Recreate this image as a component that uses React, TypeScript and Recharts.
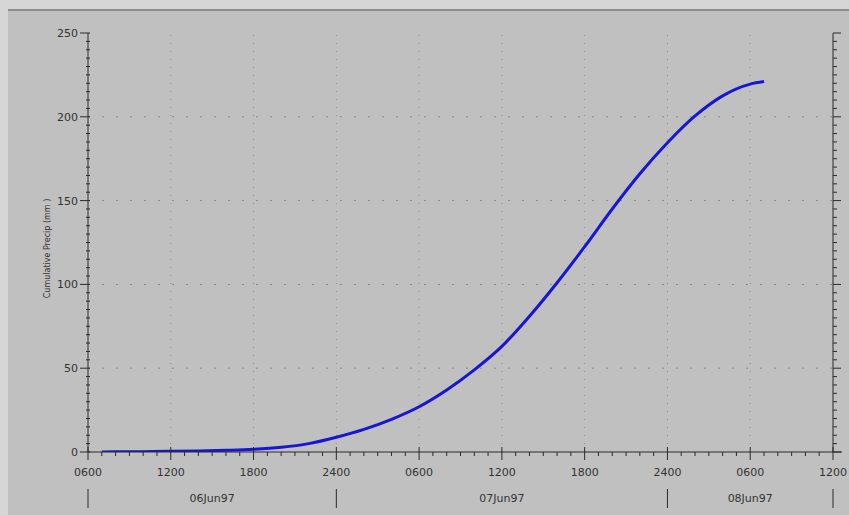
import React from 'react'
import { LineChart, Line, XAxis, YAxis, ReferenceLine } from 'recharts'

// hours after 0600 06Jun97, cumulative precip (mm)
const hours = [1, 2, 4, 6, 8, 10, 12, 14, 16, 18, 20, 22, 24, 26, 28, 30, 32, 34, 36, 38, 40, 42, 44, 46, 48, 49]
const precip = [0, 0.1, 0.2, 0.4, 0.6, 1.0, 1.6, 2.8, 5.0, 8.8, 13.5, 19.5, 27, 37, 49, 63, 81, 101, 122.5, 145, 166, 184.5, 200.5, 212.5, 219.5, 221]

const xTickLabels = ['0600', '1200', '1800', '2400', '0600', '1200', '1800', '2400', '0600', '1200']
const dayBounds = [0, 18, 42, 54]
const dayLabels = ['06Jun97', '07Jun97', '08Jun97']
const yLabels = [0, 50, 100, 150, 200, 250]

const data = hours.map((h, i) => ({ h, v: precip[i] }))

const hourTicks = Array.from({ length: 55 }, (_, i) => i)
const yTicks = Array.from({ length: 51 }, (_, i) => i * 5)
const dayCenters = dayLabels.map((_, i) => (dayBounds[i] + dayBounds[i + 1]) / 2)

const AXIS = '#2a2a2a'
const TEXT = '#333'
const GRID = '#8a8a8a'
const FONT = 'DejaVu Sans, sans-serif'

const BottomTick = (p: any) => {
  const { x, y, payload } = p
  const v = payload.value
  const major = v % 6 === 0
  const li = dayCenters.indexOf(v)
  return (
    <g>
      <line x1={x} x2={x} y1={major ? y - 5 : y} y2={y + (major ? 8 : 4)} stroke={AXIS} />
      {v === 54 && <line x1={x} x2={x + 9} y1={y} y2={y} stroke={AXIS} />}
      {major && (
        <text x={x} y={y + 24} textAnchor="middle" fontSize={11} fill={TEXT} fontFamily={FONT}>
          {xTickLabels[v / 6]}
        </text>
      )}
      {dayBounds.includes(v) && <line x1={x} x2={x} y1={y + 37} y2={y + 56} stroke={AXIS} />}
      {li >= 0 && (
        <text x={x} y={y + 50} textAnchor="middle" fontSize={11} fill={TEXT} fontFamily={FONT}>
          {dayLabels[li]}
        </text>
      )}
    </g>
  )
}

const TopTick = (p: any) => {
  const { x, y, payload } = p
  const v = payload.value
  const major = v % 6 === 0
  return (
    <g>
      <line x1={x} x2={x} y1={y} y2={y + (major ? 8 : 4)} stroke={AXIS} />
      {v === 54 && <line x1={x} x2={x + 9} y1={y} y2={y} stroke={AXIS} />}
    </g>
  )
}

const LeftTick = (p: any) => {
  const { x, y, payload } = p
  const v = payload.value
  const major = yLabels.includes(v)
  return (
    <g>
      <line x1={major ? x - 8 : x - 2} x2={x + 2} y1={y} y2={y} stroke={AXIS} />
      {major && (
        <text x={x - 10} y={y + 4} textAnchor="end" fontSize={11} fill={TEXT} fontFamily={FONT}>
          {v}
        </text>
      )}
    </g>
  )
}

const RightTick = (p: any) => {
  const { x, y, payload } = p
  const major = yLabels.includes(payload.value)
  return <line x1={x} x2={x + (major ? 8 : 4)} y1={y} y2={y} stroke={AXIS} />
}

const YTitle = (p: any) => {
  const { viewBox } = p
  const cx = viewBox.x + 47
  const cy = viewBox.y + viewBox.height / 2 + 6
  return (
    <text
      x={cx}
      y={cy}
      transform={`rotate(-90 ${cx} ${cy})`}
      textAnchor="middle"
      dominantBaseline="central"
      fontSize={8}
      fill={TEXT}
      fontFamily={FONT}
    >
      {'Cumulative Precip (mm     )'}
    </text>
  )
}

export default function App() {
  return (
    <div style={{ position: 'absolute', left: 0, top: 0, width: 849, height: 515, background: '#d6d6d6', overflow: 'hidden' }}>
      <div style={{ position: 'absolute', left: 8, top: 9, right: 0, bottom: 0, background: '#c0c0c0', borderTop: '2px solid #8e8e8e' }} />
      <div style={{ position: 'absolute', left: 0, top: 0 }}>
        <LineChart width={849} height={515} data={data} margin={{ top: 33, right: 0, bottom: 0, left: 0 }}>
          <XAxis
            xAxisId="main"
            dataKey="h"
            type="number"
            domain={[0, 54]}
            ticks={hourTicks}
            interval={0}
            tickSize={0}
            tickMargin={0}
            tickLine={false}
            tick={BottomTick}
            height={63}
            stroke={AXIS}
            allowDataOverflow
          />
          <XAxis
            xAxisId="top"
            orientation="top"
            dataKey="h"
            type="number"
            domain={[0, 54]}
            ticks={hourTicks}
            interval={0}
            tickSize={0}
            tickMargin={0}
            tickLine={false}
            tick={TopTick}
            height={0}
            stroke={AXIS}
            allowDataOverflow
          />
          <YAxis
            yAxisId="left"
            type="number"
            domain={[0, 250]}
            ticks={yTicks}
            interval={0}
            tickSize={0}
            tickMargin={0}
            tickLine={false}
            tick={LeftTick}
            width={88}
            stroke={AXIS}
            label={YTitle}
            allowDataOverflow
          />
          <YAxis
            yAxisId="right"
            orientation="right"
            type="number"
            domain={[0, 250]}
            ticks={yTicks}
            interval={0}
            tickSize={0}
            tickMargin={0}
            tickLine={false}
            tick={RightTick}
            width={16}
            stroke={AXIS}
            allowDataOverflow
          />
          {xTickLabels.map((_, i) =>
            i > 0 && i < xTickLabels.length - 1 ? (
              <ReferenceLine key={'vx' + i} xAxisId="main" yAxisId="left" x={i * 6} stroke={GRID} strokeDasharray="1 7" />
            ) : null
          )}
          {yLabels.slice(1, -1).map((v) => (
            <ReferenceLine key={'hy' + v} xAxisId="main" yAxisId="left" y={v} stroke={GRID} strokeDasharray="2 12" />
          ))}
          <Line
            xAxisId="main"
            yAxisId="left"
            dataKey="v"
            type="monotone"
            stroke="#1616d4"
            strokeWidth={3}
            dot={false}
            isAnimationActive={false}
          />
        </LineChart>
      </div>
    </div>
  )
}
